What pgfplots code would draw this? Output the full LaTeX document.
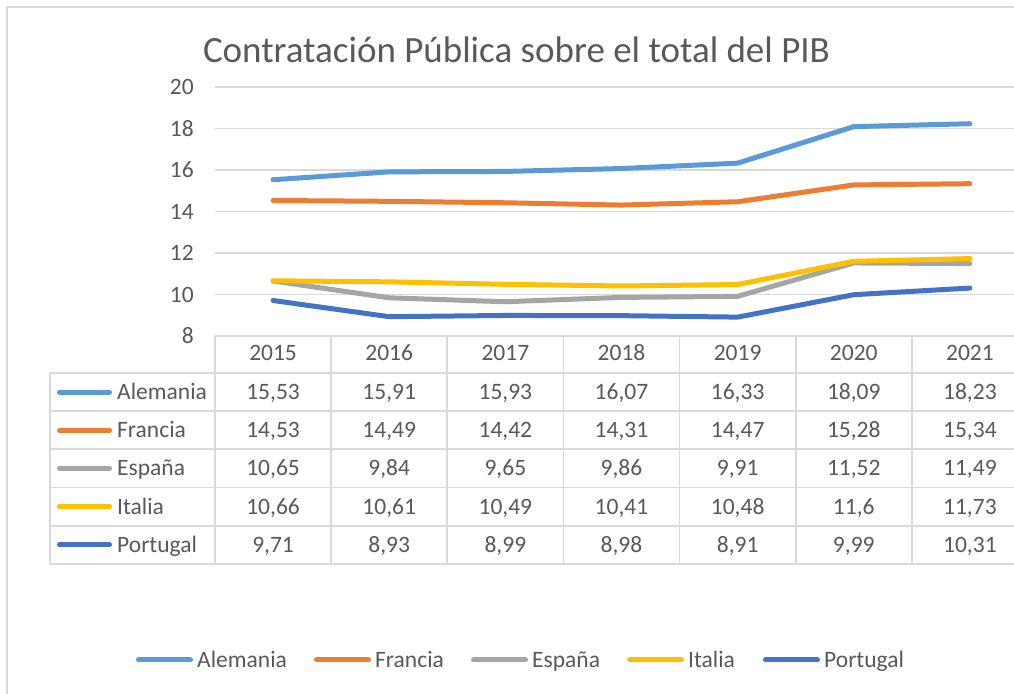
\documentclass[border=0pt]{standalone}
\usepackage{pgfplots}
\pgfplotsset{compat=1.18}
\usepackage{fontspec}
\setmainfont{Carlito}
\definecolor{txt}{HTML}{595959}
\definecolor{gridc}{HTML}{D9D9D9}
\definecolor{cAle}{HTML}{5B9BD5}
\definecolor{cFra}{HTML}{ED7D31}
\definecolor{cEsp}{HTML}{A5A5A5}
\definecolor{cIta}{HTML}{FFC000}
\definecolor{cPor}{HTML}{4472C4}
\begin{document}
\begin{tikzpicture}[x=1pt,y=1pt]
\fill[white] (0,0) rectangle (1014,693);
\def\colw{116.14}
\begin{axis}[at={(215pt,357pt)}, anchor=south west, scale only axis,
  width=813pt, height=249pt,
  xmin=0.5, xmax=7.5, ymin=8, ymax=20,
  ytick={8,10,12,14,16,18,20},
  xtick={1,2,3,4,5,6,7},
  xticklabels={2015,2016,2017,2018,2019,2020,2021},
  ymajorgrids, grid style={gridc, line width=1.5pt},
  axis line style={draw=none}, major tick length=0pt, tick style={draw=none},
  /pgf/number format/assume math mode=true,
  ticklabel style={font=\fontsize{23.5}{28}\selectfont, text=txt},
  yticklabel style={anchor=east, inner sep=0pt, xshift=-21pt},
  xticklabel style={anchor=base, inner sep=0pt, yshift=-25pt},
  every axis plot/.append style={line width=5pt, line join=round, line cap=round},
  clip=false]
\addplot[cAle] coordinates {(1,15.53) (2,15.91) (3,15.93) (4,16.07) (5,16.33) (6,18.09) (7,18.23)};
\addplot[cFra] coordinates {(1,14.53) (2,14.49) (3,14.42) (4,14.31) (5,14.47) (6,15.28) (7,15.34)};
\addplot[cEsp] coordinates {(1,10.65) (2,9.84) (3,9.65) (4,9.86) (5,9.91) (6,11.52) (7,11.49)};
\addplot[cIta] coordinates {(1,10.66) (2,10.61) (3,10.49) (4,10.41) (5,10.48) (6,11.6) (7,11.73)};
\addplot[cPor] coordinates {(1,9.71) (2,8.93) (3,8.99) (4,8.98) (5,8.91) (6,9.99) (7,10.31)};
\end{axis}
% chart border
\draw[gridc, line width=1.5pt] (7,-5) -- (7,686) -- (1030,686);
% title
\node[anchor=base, text=txt, inner sep=0pt, font=\fontsize{37}{44}\selectfont] at (516.5,630) {Contratación Pública sobre el total del PIB};
% data table grid
\foreach \k in {0,...,7} \draw[gridc, line width=1.8pt] ({215+\k*\colw},357) -- ({215+\k*\colw},129);
\draw[gridc, line width=1.8pt] (50,320) -- (50,129);
\draw[gridc, line width=1.8pt] (215,357) -- (1030,357);
\foreach \yy in {320,281.8,243.6,205.4,167.2,129} \draw[gridc, line width=1.8pt] (50,\yy) -- (1030,\yy);
% table rows
\begingroup
\fontsize{23.5}{28}\selectfont
\foreach \nm/\cc/\yc in {Alemania/cAle/300.9, Francia/cFra/262.7, España/cEsp/224.5, Italia/cIta/186.3, Portugal/cPor/148.1} {
  \draw[\cc, line width=5pt, line cap=round] (59.5,\yc) -- (109.5,\yc);
  \node[anchor=base west, inner sep=0pt, text=txt] at (117,\yc-7.5) {\nm};
}
\foreach \v [count=\k] in {{15,53},{15,91},{15,93},{16,07},{16,33},{18,09},{18,23}}
  \node[anchor=base, inner sep=0pt, text=txt] at ({215+(\k-0.5)*\colw},293.4) {\v};
\foreach \v [count=\k] in {{14,53},{14,49},{14,42},{14,31},{14,47},{15,28},{15,34}}
  \node[anchor=base, inner sep=0pt, text=txt] at ({215+(\k-0.5)*\colw},255.2) {\v};
\foreach \v [count=\k] in {{10,65},{9,84},{9,65},{9,86},{9,91},{11,52},{11,49}}
  \node[anchor=base, inner sep=0pt, text=txt] at ({215+(\k-0.5)*\colw},217) {\v};
\foreach \v [count=\k] in {{10,66},{10,61},{10,49},{10,41},{10,48},{11,6},{11,73}}
  \node[anchor=base, inner sep=0pt, text=txt] at ({215+(\k-0.5)*\colw},178.8) {\v};
\foreach \v [count=\k] in {{9,71},{8,93},{8,99},{8,98},{8,91},{9,99},{10,31}}
  \node[anchor=base, inner sep=0pt, text=txt] at ({215+(\k-0.5)*\colw},140.6) {\v};
% bottom legend
\foreach \nm/\cc/\xs in {Alemania/cAle/136, Francia/cFra/314, España/cEsp/471, Italia/cIta/627, Portugal/cPor/763} {
  \draw[\cc, line width=5pt, line cap=round] (\xs+2.5,33) -- (\xs+54.5,33);
  \node[anchor=base west, inner sep=0pt, text=txt] at (\xs+61,25.5) {\nm};
}
\endgroup
\pgfresetboundingbox
\useasboundingbox (0,0) rectangle (1014,693);
\end{tikzpicture}
\end{document}
